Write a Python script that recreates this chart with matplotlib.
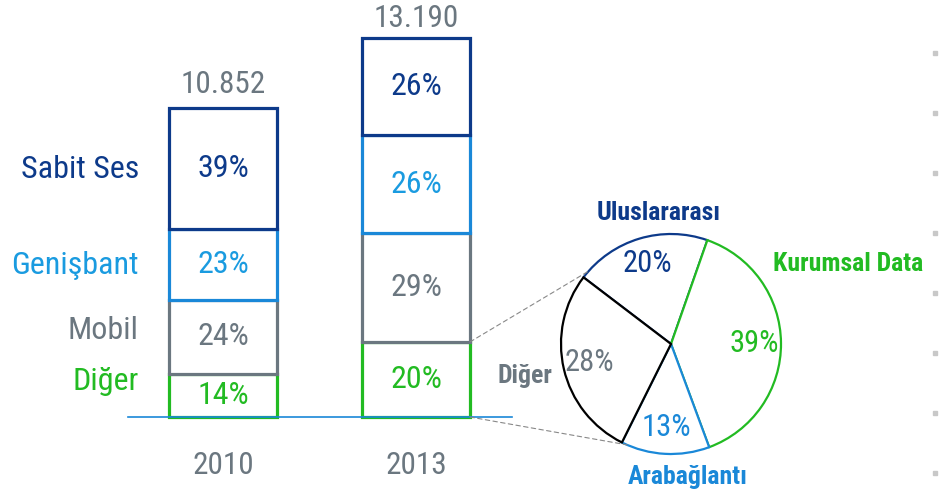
import numpy as np
import matplotlib
matplotlib.use('Agg')
import matplotlib.pyplot as plt
from matplotlib import font_manager
from matplotlib.patches import ConnectionPatch

# pick a narrow font if one is there
names = set(f.name for f in font_manager.fontManager.ttflist)
font = 'Roboto'
for cand in ['Roboto Condensed', 'Liberation Sans Narrow', 'Roboto']:
    if cand in names:
        font = cand
        break
plt.rcParams['font.family'] = [font, 'DejaVu Sans']

# data
years = ['2010', '2013']
totals = [10852, 13190]
segments = ['Diğer', 'Mobil', 'Genişbant', 'Sabit Ses']
shares = {
    'Diğer': [14, 20],
    'Mobil': [24, 29],
    'Genişbant': [23, 26],
    'Sabit Ses': [39, 26],
}
total_labels = ['10.852', '13.190']
# where the segment names sit (value units, left of the 2010 bar)
name_y = [1230, 3022, 5306, 8679]

pie_labels = ['Uluslararası', 'Diğer', 'Arabağlantı', 'Kurumsal Data']
pie_values = [20, 28, 13, 39]

navy = '#0d3a8a'
blue = '#1a88d8'
gray = '#6b7780'
green = '#22bb22'
seg_colors = {'Diğer': green, 'Mobil': gray, 'Genişbant': blue, 'Sabit Ses': navy}
seg_label_colors = {'Diğer': green, 'Mobil': gray, 'Genişbant': '#1a9be0', 'Sabit Ses': navy}
pie_edge = [navy, 'black', blue, green]
pie_text = [navy, gray, blue, green]

fig = plt.figure(figsize=(9.45, 4.92), dpi=100)

# bars axes, spans whole figure
ax = fig.add_axes([0, 0, 1, 1])
ax.set_xlim(-1.155, 3.741)
ax.set_ylim(-2635, 14652)
ax.axis('off')

x = np.arange(len(years))
w = 0.56
bottom = np.zeros(len(years))
for seg in segments:
    vals = np.array(totals) * np.array(shares[seg]) / 100.0
    ax.bar(x, vals, width=w, bottom=bottom, color='white',
           edgecolor=seg_colors[seg], linewidth=2.3)
    for i in range(len(years)):
        ax.text(x[i], bottom[i] + vals[i] / 2, f'{shares[seg][i]}%',
                ha='center', va='center', fontsize=23,
                color=seg_label_colors[seg])
    bottom = bottom + vals

# totals above bars, years below
for i in range(len(years)):
    ax.text(x[i], totals[i] + 820, total_labels[i], ha='center', va='center',
            fontsize=22.5, color=gray)
    ax.text(x[i], -1687, years[i], ha='center', va='center',
            fontsize=22.5, color=gray)

# segment names on the left of 2010 bar
for seg, yy in zip(segments, name_y):
    ax.text(-0.435, yy, seg, ha='right', va='center', fontsize=23,
            color=seg_label_colors[seg])

# baseline
ax.plot([-0.49, 1.497], [0, 0], color=blue, lw=1.2)

# pie
cx, cy, r = 671, 344, 110
pax = fig.add_axes([(cx - r) / 945, (492 - cy - r) / 492, 2 * r / 945, 2 * r / 492])
start = 70.7
wedges, _ = pax.pie(pie_values, startangle=start, counterclock=True,
                    wedgeprops=dict(facecolor='white', linewidth=1.6))
order = [0, 3, 2, 1]
for z, idx in enumerate(order):
    wedges[idx].set_edgecolor(pie_edge[idx])
    wedges[idx].set_zorder(2 + z)
pax.set_xlim(-1, 1)
pax.set_ylim(-1, 1)
pax.set_aspect('equal')

angles = start + 360 * (np.cumsum(pie_values) - np.array(pie_values) / 2) / sum(pie_values)
for i, a in enumerate(angles):
    t = np.deg2rad(a)
    pax.text(0.76 * np.cos(t), 0.76 * np.sin(t), f'{pie_values[i]}%',
             ha='center', va='center', fontsize=22, color=pie_text[i], zorder=10)

outer_pos = [(-0.11, 1.19), (-1.33, -0.29), (0.15, -1.21), (1.61, 0.73)]
for i, (px, py) in enumerate(outer_pos):
    pax.text(px, py, pie_labels[i], ha='center', va='center', fontsize=18.5,
             fontweight='bold', color=pie_text[i], clip_on=False)

# dashed connectors from the Diğer segment of 2013 to the pie
dig_top = totals[1] * shares['Diğer'][1] / 100.0
for (y0, ang) in [(dig_top, 138.5), (0, 246.5)]:
    t = np.deg2rad(ang)
    con = ConnectionPatch(xyA=(x[1] + w / 2, y0), coordsA=ax.transData,
                          xyB=(np.cos(t), np.sin(t)), coordsB=pax.transData,
                          color='#888888', lw=0.8, linestyle=(0, (4, 3)))
    fig.add_artist(con)

# small dots on the right edge
dots_y = np.arange(8)
fig.add_artist(plt.Line2D([935 / 945] * 8, (492 - (53 + 60 * dots_y)) / 492,
                          transform=fig.transFigure, linestyle='none',
                          marker='s', markersize=2.2, color='#c8c8c8'))

fig.savefig('out.png', dpi=100)
